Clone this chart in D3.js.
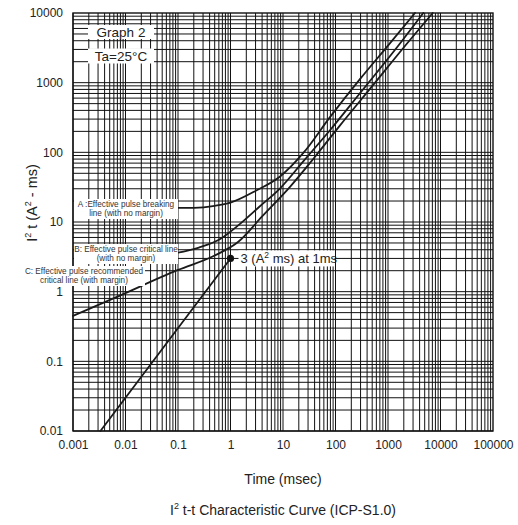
<!DOCTYPE html>
<html>
<head>
<meta charset="utf-8">
<script src="https://cdn.jsdelivr.net/npm/d3@7"></script>
<style>
  html, body { margin: 0; padding: 0; background: #fff; }
  svg { display: block; font-family: "Liberation Sans", Arial, sans-serif; }
</style>
</head>
<body>
<svg id="chart" width="518" height="525"></svg>
<script>
// Axis decades
const xDecades = [0.001, 0.01, 0.1, 1, 10, 100, 1000, 10000, 100000];
const xTickLabels = ["0.001", "0.01", "0.1", "1", "10", "100", "1000", "10000", "100000"];
const yDecades = [0.01, 0.1, 1, 10, 100, 1000, 10000];
const yTickLabels = ["0.01", "0.1", "1", "10", "100", "1000", "10000"];

// Curve A: effective pulse breaking line (time ms, I²t A²·ms)
const curveA = [[0.095, 15.9], [0.2, 16], [0.5, 17.1], [1.0, 19], [3.15, 28.5], [8.8, 45],
  [24.4, 98], [78.5, 320], [300, 1150], [1000, 3400], [3266, 10000]];
// Curve B: effective pulse critical line
const curveB = [[0.094, 3.6], [0.25, 4.3], [0.59, 5.5], [1.52, 9.4], [3.5, 16.4], [8.8, 30.5],
  [25, 76], [80, 211], [300, 722], [1500, 3250], [4700, 10000]];
// Curve C: effective pulse recommended critical line
const curveC = [[0.001, 0.45], [0.0059, 0.8], [0.1, 2.05], [0.5, 3.3], [1.41, 5.2], [4, 12],
  [13.6, 32], [40, 85], [120, 240], [500, 890], [2200, 3500], [7100, 10000]];
// Constant-current line ending at the marked point
const lineD = [[0.00333, 0.01], [1, 3]];
const marker = { t: 1, v: 3 };

const svg = d3.select("#chart");
const W = 518, H = 525;
const m = { left: 73, right: 25, top: 13, bottom: 94 };
const x = d3.scaleLog().domain([0.001, 100000]).range([m.left, W - m.right]);
const y = d3.scaleLog().domain([0.01, 10000]).range([H - m.bottom, m.top]);

// Grid: all 1..9 subdivisions of every decade
const gx = [], gy = [];
for (let i = 0; i < xDecades.length - 1; i++)
  for (let k = 1; k <= 9; k++) gx.push(xDecades[i] * k);
for (let i = 0; i < yDecades.length - 1; i++)
  for (let k = 1; k <= 9; k++) gy.push(yDecades[i] * k);

const grid = svg.append("g").attr("stroke", "#111").attr("stroke-width", 1);
grid.selectAll("line.v").data(gx).join("line").attr("class", "v")
  .attr("x1", d => x(d)).attr("x2", d => x(d))
  .attr("y1", y(0.01)).attr("y2", y(10000));
grid.selectAll("line.h").data(gy).join("line").attr("class", "h")
  .attr("y1", d => y(d)).attr("y2", d => y(d))
  .attr("x1", x(0.001)).attr("x2", x(100000));

// Frame
svg.append("rect")
  .attr("x", x(0.001)).attr("y", y(10000))
  .attr("width", x(100000) - x(0.001)).attr("height", y(0.01) - y(10000))
  .attr("fill", "none").attr("stroke", "#111").attr("stroke-width", 1.4);

// Axes (labels only, grid provides the ticks)
const xAxis = d3.axisBottom(x).tickValues(xDecades)
  .tickFormat((d, i) => xTickLabels[i]).tickSize(0).tickPadding(9);
svg.append("g").attr("transform", `translate(0,${y(0.01)})`).call(xAxis)
  .call(g => g.select(".domain").remove())
  .selectAll("text").attr("font-size", 12).attr("fill", "#222")
  .attr("font-family", "Liberation Sans, Arial, sans-serif");

const yAxis = d3.axisLeft(y).tickValues(yDecades)
  .tickFormat((d, i) => yTickLabels[i]).tickSize(0).tickPadding(10);
svg.append("g").attr("transform", `translate(${x(0.001)},0)`).call(yAxis)
  .call(g => g.select(".domain").remove())
  .selectAll("text").attr("font-size", 12).attr("fill", "#222")
  .attr("font-family", "Liberation Sans, Arial, sans-serif");

// Curves
const line = d3.line().x(d => x(d[0])).y(d => y(d[1])).curve(d3.curveMonotoneX);
const curves = svg.append("g").attr("fill", "none").attr("stroke", "#1a1a1a")
  .attr("stroke-width", 1.8).attr("stroke-linecap", "round");
[curveA, curveB, curveC, lineD].forEach(c => curves.append("path").attr("d", line(c)));

svg.append("circle").attr("cx", x(marker.t)).attr("cy", y(marker.v)).attr("r", 3.6)
  .attr("fill", "#111");

// Annotation boxes
function box(cx, cy, w, h) {
  svg.append("rect").attr("x", cx - w / 2).attr("y", cy - h / 2)
    .attr("width", w).attr("height", h).attr("fill", "#fff");
}
function smallText(lines, cx, y0, size, lh) {
  const t = svg.append("text").attr("text-anchor", "middle").attr("font-size", size)
    .attr("fill", "#333");
  lines.forEach((s, i) => t.append("tspan").attr("x", cx).attr("y", y0 + i * lh).text(s));
}

// Curve labels
box(126, 209, 104, 20);
smallText(["A :Effective pulse breaking", "line (with no margin)"], 126, 207, 8.2, 9);
box(126, 254, 104, 20);
smallText(["B: Effective pulse critical line", "(with no margin)"], 126, 252, 8.2, 9);
box(84, 276, 122, 20);
smallText(["C: Effective pulse recommended", "critical line (with margin)"], 84, 274, 8.2, 9);

// Marker label
const mx = x(marker.t) + 10, my = y(marker.v);
svg.append("rect").attr("x", mx - 2).attr("y", my - 8).attr("width", 96).attr("height", 16)
  .attr("fill", "#fff");
const ml = svg.append("text").attr("x", mx).attr("y", my + 4.5).attr("font-size", 13)
  .attr("fill", "#222");
ml.append("tspan").text("3 (A");
ml.append("tspan").attr("font-size", 8.5).attr("dy", -5).text("2");
ml.append("tspan").attr("dy", 5).text(" ms) at 1ms");

// Chart tag boxes
box(121, 32, 66, 14);
svg.append("text").attr("x", 121).attr("y", 37).attr("text-anchor", "middle")
  .attr("font-size", 13.5).attr("fill", "#222").text("Graph 2");
box(121, 56, 66, 15);
svg.append("text").attr("x", 121).attr("y", 61).attr("text-anchor", "middle")
  .attr("font-size", 13.5).attr("fill", "#222").text("Ta=25°C");

// Axis titles
const yt = svg.append("text").attr("transform", "translate(37,203) rotate(-90)")
  .attr("text-anchor", "middle").attr("font-size", 14.5).attr("fill", "#222");
yt.append("tspan").text("I");
yt.append("tspan").attr("font-size", 9).attr("dy", -6).text("2");
yt.append("tspan").attr("dy", 6).text(" t (A");
yt.append("tspan").attr("font-size", 9).attr("dy", -6).text("2");
yt.append("tspan").attr("dy", 6).text(" - ms)");

svg.append("text").attr("x", (x(0.001) + x(100000)) / 2).attr("y", 484)
  .attr("text-anchor", "middle").attr("font-size", 14).attr("fill", "#222")
  .text("Time (msec)");

const cap = svg.append("text").attr("x", (x(0.001) + x(100000)) / 2).attr("y", 515)
  .attr("text-anchor", "middle").attr("font-size", 14).attr("fill", "#222");
cap.append("tspan").text("I");
cap.append("tspan").attr("font-size", 9).attr("dy", -6).text("2");
cap.append("tspan").attr("dy", 6).text(" t-t Characteristic Curve (ICP-S1.0)");
</script>
</body>
</html>
